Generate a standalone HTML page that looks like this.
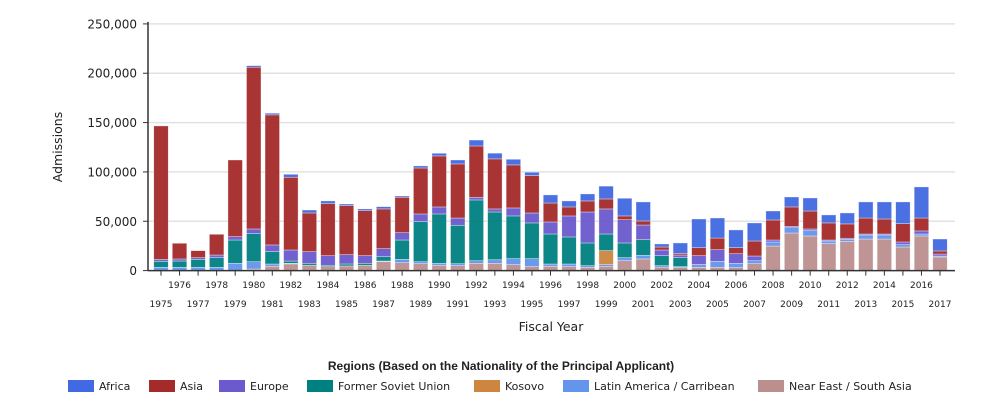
<!DOCTYPE html>
<html><head><meta charset="utf-8"><style>
body{margin:0;background:#fff;font-family:"DejaVu Sans",sans-serif}
svg text{font-family:"DejaVu Sans","Liberation Sans",sans-serif}
</style></head><body>
<svg id="chart" width="995" height="413"></svg>
<script>
const years=[1975,1976,1977,1978,1979,1980,1981,1982,1983,1984,1985,1986,1987,1988,1989,1990,1991,1992,1993,1994,1995,1996,1997,1998,1999,2000,2001,2002,2003,2004,2005,2006,2007,2008,2009,2010,2011,2012,2013,2014,2015,2016,2017];
const nesa=[0,0,0,0,0,1.6,4.4,6.8,5.4,4,4.7,5.4,9,8,7,5.4,5,7.4,7.4,6,4,4.4,4,3.3,4,10,11.8,3.5,3,3.3,3.3,3,7,24.9,38.1,35.1,27.3,29.7,32,32,23.9,35.1,13.8];
const latam=[3.3,3.3,3.3,3.3,7.4,7.4,2.3,0.6,0,0,0,0,0.7,3.4,2,2,2,2.6,3.6,6.1,8.1,2.3,2.7,1.7,2,3.1,3.7,1.5,1,3.1,6.1,4.4,3,4.1,5.4,5.4,2.7,2,4.1,4.1,2.4,2,1];
const kosovo=[0,0,0,0,0,0,0,0,0,0,0,0,0,0,0,0,0,0,0,0,0,0,0,0,14.2,0,0,0,0,0,0,0,0,0,0,0,0,0,0,0,0,0,0];
const fsu=[6.1,6.4,8.1,9.8,23.6,28.4,12.5,2.3,2,1.4,2,2,4.4,19.6,40.6,50,38.9,61.6,48.4,43.3,36.2,30.4,27.4,23,16.9,14.9,15.8,10.1,9.1,0,0,0,0,0,0,0,0,0,0,0,0,0,0];
const europe=[2,2.1,1.7,2.7,3.4,4.8,6.8,11.2,11.8,9.7,9.4,7.7,8.1,7.4,7.8,7.1,7.4,2.7,3.1,8.1,10.1,12.2,21.3,31.4,25.4,23.6,14.9,5.8,2.7,8.7,11.8,9.7,4.8,2,1.4,1.7,1,1.1,1,1,2.7,3.1,2];
const asia=[135.2,15.9,7.1,21,77.7,163.9,131.8,73.7,39.2,52.7,49.7,45.6,40.3,35.9,46.6,51.7,54.8,52,50.7,43.6,37.9,19.2,9.1,11.2,10.1,3.8,4.1,3,1.7,8.1,11.8,6.1,15.2,20.3,19.6,18.2,17.3,14.5,16.2,15.2,18.6,13.1,3.1];
const africa=[0,0,0,0,0,1.6,1.7,3,3,2.8,1.7,1.8,2.3,1.3,2.1,2.7,4,6,5.8,5.7,3.4,8.2,6.1,7.1,13,17.9,19.3,3.1,10.5,29.1,20.3,18,18.3,9.1,10.1,13.2,8.1,11.1,16.3,17.3,22,31.5,12.1];
const yTicks=[0,50000,100000,150000,200000,250000];
const seriesNames=["Near East / South Asia","Latin America / Carribean","Kosovo","Former Soviet Union","Europe","Asia","Africa"];
const seriesData=[nesa,latam,kosovo,fsu,europe,asia,africa];
const colors=["#bc8f8f","#6495ed","#cd853f","#008080","#6a5acd","#a52a2a","#4169e1"];
const legendOrder=["Africa","Asia","Europe","Former Soviet Union","Kosovo","Latin America / Carribean","Near East / South Asia"];
const legendX=[68,149,219,307,474,563,758];

const NS="http://www.w3.org/2000/svg";
const svg=document.getElementById('chart');
function el(t,a,p){const e=document.createElementNS(NS,t);for(const k in a)e.setAttribute(k,a[k]);(p||svg).appendChild(e);return e;}
const X0=148,X1=955,Y0=270.6,YTOP=23.9;
function y(v){return Y0-(v/250000)*(Y0-YTOP);}
function x(i){return 161+i*((940-161)/(years.length-1));}
const BW=14.5;

yTicks.forEach(t=>{
  if(t>0){const g=el('line',{x1:X0,x2:X1,y1:y(t),y2:y(t),stroke:'#e2e2e2','stroke-width':1.5});
  
  }
  const tk=el('line',{x1:X0-5,x2:X0,y1:y(t),y2:y(t),stroke:'#333'});
  
  
  const tx=el('text',{x:X0-11,y:y(t)+4.5,'text-anchor':'end','font-size':12,fill:'#222'});
  tx.textContent=t.toLocaleString('en-US');
  
  
});

years.forEach((yr,i)=>{
  let acc=0;
  seriesData.forEach((s,k)=>{
    const v=s[i]*1000; if(v<=0)return;
    const r=el('rect',{x:x(i)-BW/2,y:y(acc+v),width:BW,height:y(acc)-y(acc+v),fill:colors[k],stroke:'#fff','stroke-opacity':0.6,'stroke-width':0.6,opacity:0.95});
    
    
    acc+=v;
  });
  const tk=el('line',{x1:x(i),x2:x(i),y1:Y0,y2:Y0+5,stroke:'#333'});
  
  
  const tx=el('text',{x:x(i),y:i%2?288:307,'text-anchor':'middle','font-size':9,fill:'#222'});
  tx.textContent=yr;
  
  
});

const ax=el('line',{x1:X0,x2:X1,y1:Y0,y2:Y0,stroke:'#333','stroke-width':1.5});


const ay=el('line',{x1:X0,x2:X0,y1:YTOP-2,y2:Y0,stroke:'#333','stroke-width':1.5});



const yt=el('text',{x:0,y:0,transform:'translate(62,147) rotate(-90)','text-anchor':'middle','font-size':12.5,fill:'#222'});
yt.textContent='Admissions';


const xt=el('text',{x:551,y:331,'text-anchor':'middle','font-size':12.5,fill:'#222'});
xt.textContent='Fiscal Year';


const lt=el('text',{x:501,y:370,'text-anchor':'middle','font-size':12,'font-weight':'bold',fill:'#222',style:'font-family:"Liberation Sans",sans-serif'});
lt.textContent='Regions (Based on the Nationality of the Principal Applicant)';



legendOrder.forEach((n,j)=>{
  const k=seriesNames.indexOf(n);
  const g=el('g',{});
  
  
  el('rect',{x:legendX[j],y:380,width:26,height:12,fill:colors[k]},g);
  const t=el('text',{x:legendX[j]+31,y:390,'font-size':11,fill:'#222'},g);
  t.textContent=n;
});
</script>
</body></html>
